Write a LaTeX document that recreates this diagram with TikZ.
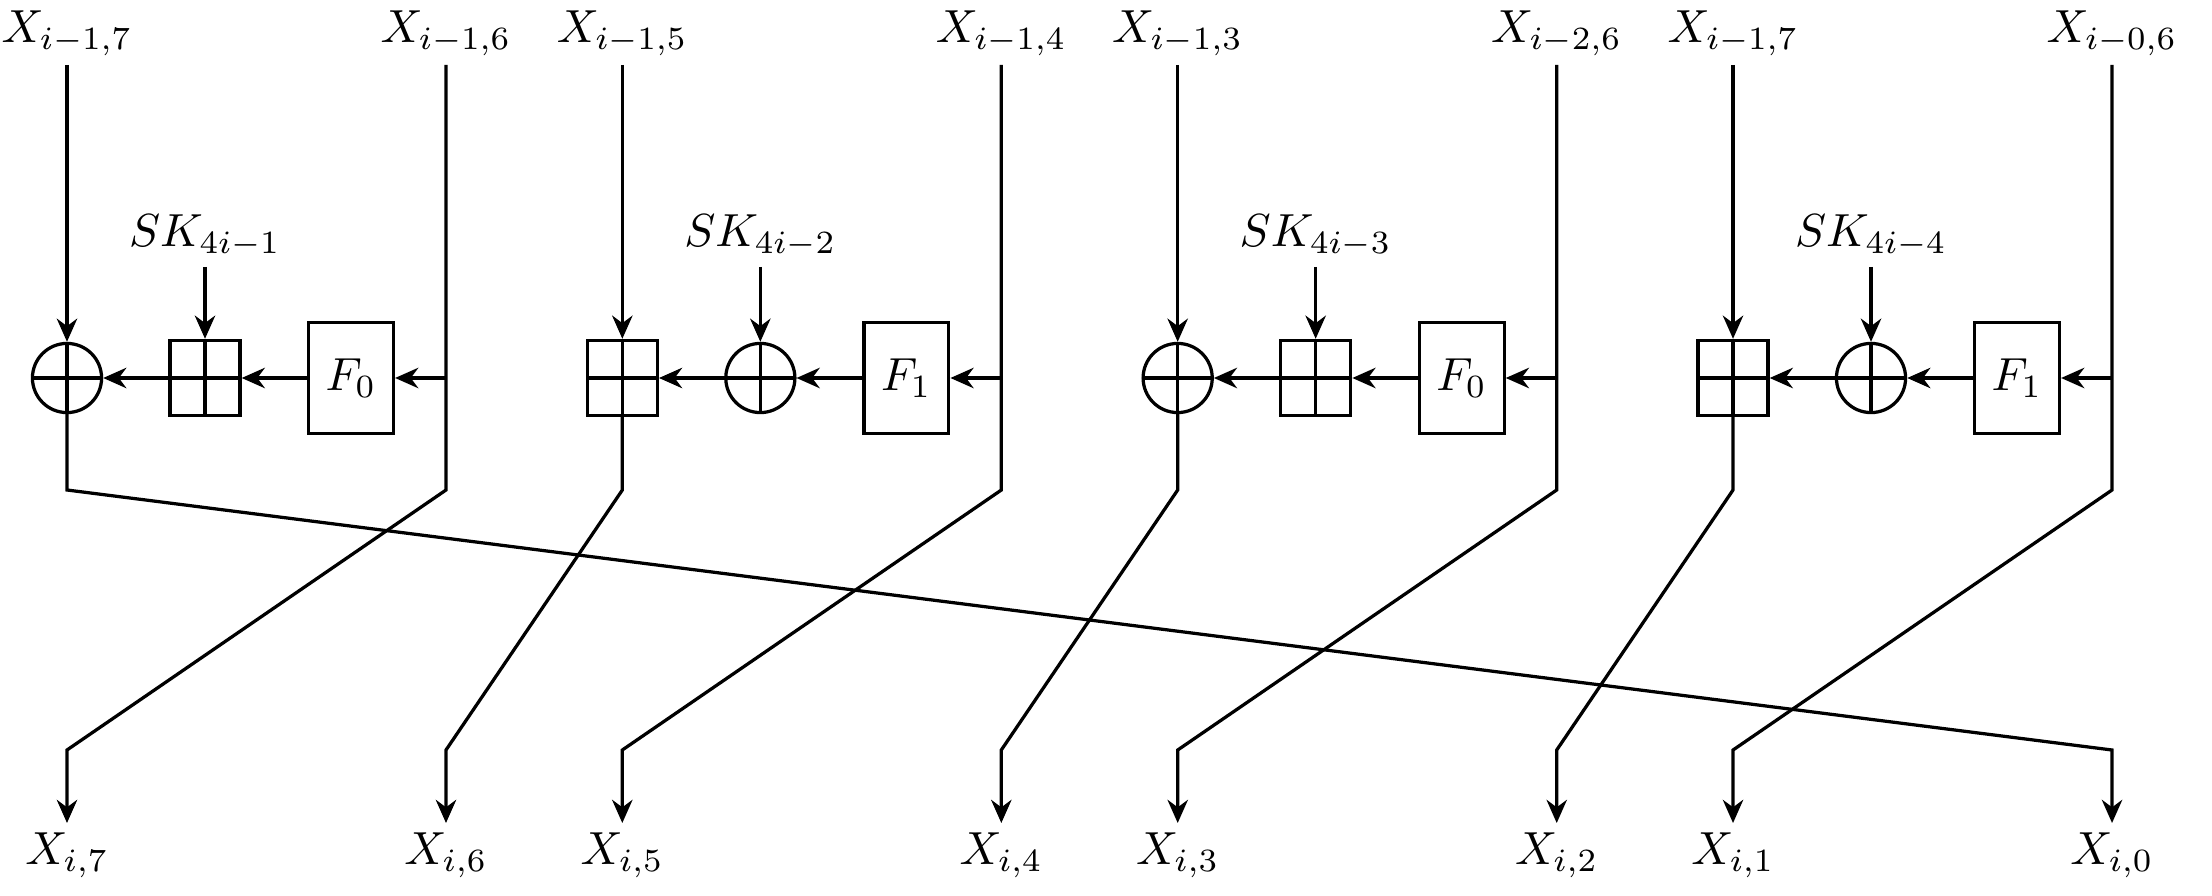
\documentclass[tikz,border=0pt]{standalone}
\usetikzlibrary{arrows.meta}
\tikzset{
  xorop/.style={circle,draw,minimum size=14.9pt,inner sep=0pt,
    path picture={\draw (path picture bounding box.north) -- (path picture bounding box.south)
                        (path picture bounding box.west) -- (path picture bounding box.east);}},
  addop/.style={rectangle,draw,minimum width=15.1pt,minimum height=16.2pt,inner sep=0pt,
    path picture={\draw (path picture bounding box.north) -- (path picture bounding box.south)
                        (path picture bounding box.west) -- (path picture bounding box.east);}},
  fbox/.style={rectangle,draw,minimum width=18.3pt,minimum height=23.9pt,inner sep=0pt},
  toplab/.style={anchor=south,inner sep=1.7pt},
  botlab/.style={anchor=north,inner sep=1.7pt},
  sklab/.style={anchor=south,inner sep=1.7pt},
}
\newcommand{\rdblock}[9]{%
  \pgfmathsetmacro\dx{555.33*#1}
  \node[toplab] (tl#1) at (67+\dx,65) {$#5$};
  \node[toplab] (tr#1) at (446+\dx,65) {$#6$};
  \node[#2] (a#1) at (67+\dx,378) {};
  \node[#3] (b#1) at (205+\dx,378) {};
  \node[fbox] (f#1) at (351+\dx,378) {$F_#4$};
  \node[sklab] (k#1) at (205+\dx,267) {$SK_{#7}$};
  \coordinate (j#1) at (446+\dx,378);
  \coordinate (lb#1) at (67+\dx,490);
  \coordinate (rb#1) at (446+\dx,490);
  \draw[->] (tl#1) -- (a#1);
  \draw[->] (k#1) -- (b#1);
  \draw[->] (j#1) -- (f#1);
  \draw[->] (f#1) -- (b#1);
  \draw[->] (b#1) -- (a#1);
  \draw[->] (a#1) -- (lb#1) -- (ob#8) -- (o#8);
  \draw[->] (tr#1) -- (rb#1) -- (ob#9) -- (o#9);
}
\begin{document}
\begin{tikzpicture}[x=0.2155pt,y=-0.2155pt,line width=0.7pt,
  >={Stealth[length=5pt,width=4.4pt]}]
\useasboundingbox (0,0) rectangle (2212,895);
\foreach \p/\x in {0/67,1/446,2/622.3,3/1001.3,4/1177.7,5/1556.7,6/1733,7/2112}{
  \pgfmathtruncatemacro\n{7-\p}
  \node[botlab] (o\p) at (\x,823) {$X_{i,\n}$};
  \coordinate (ob\p) at (\x,750);
}
\rdblock{0}{xorop}{addop}{0}{X_{i-1,7}}{X_{i-1,6}}{4i-1}{7}{0}
\rdblock{1}{addop}{xorop}{1}{X_{i-1,5}}{X_{i-1,4}}{4i-2}{1}{2}
\rdblock{2}{xorop}{addop}{0}{X_{i-1,3}}{X_{i-2,6}}{4i-3}{3}{4}
\rdblock{3}{addop}{xorop}{1}{X_{i-1,7}}{X_{i-0,6}}{4i-4}{5}{6}
\end{tikzpicture}
\end{document}
